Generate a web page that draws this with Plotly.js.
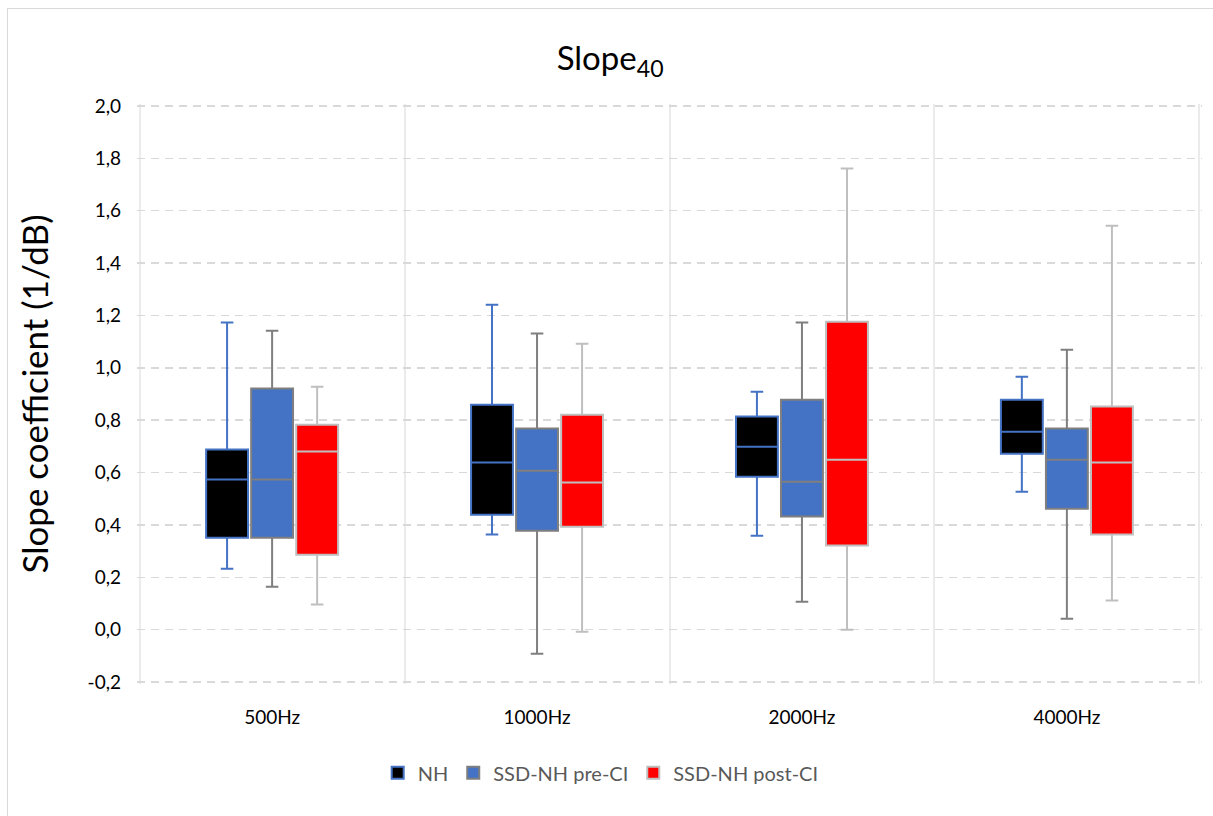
<!DOCTYPE html>
<html>
<head>
<meta charset="utf-8">
<script src="https://cdn.plot.ly/plotly-3.0.1.min.js"></script>
<style>
  html, body { margin: 0; padding: 0; background: #fff; }
  #frame { position: absolute; left: 7px; top: 8px; width: 1215px; height: 815px; border: 1px solid #D9D9D9; box-sizing: border-box; }
  #chart { position: absolute; left: 0; top: 0; width: 1213px; height: 816px; }
</style>
</head>
<body>
<div id="frame"></div>
<div id="chart"></div>
<script>
// Frequency bands
const categories = ['500Hz', '1000Hz', '2000Hz', '4000Hz'];

// Box statistics per group: whisker low, Q1, median, Q3, whisker high
const nhLow    = [0.233, 0.363, 0.359, 0.527];
const nhQ1     = [0.351, 0.439, 0.584, 0.672];
const nhMed    = [0.573, 0.638, 0.699, 0.756];
const nhQ3     = [0.688, 0.859, 0.814, 0.878];
const nhHigh   = [1.173, 1.241, 0.909, 0.966];

const preLow   = [0.164, -0.092, 0.107, 0.042];
const preQ1    = [0.351, 0.378, 0.432, 0.462];
const preMed   = [0.573, 0.607, 0.565, 0.649];
const preQ3    = [0.921, 0.768, 0.878, 0.768];
const preHigh  = [1.142, 1.131, 1.173, 1.069];

const postLow  = [0.096, -0.008, 0.000, 0.111];
const postQ1   = [0.286, 0.393, 0.321, 0.363];
const postMed  = [0.680, 0.562, 0.649, 0.638];
const postQ3   = [0.783, 0.821, 1.176, 0.852];
const postHigh = [0.928, 1.092, 1.761, 1.543];

// Y axis ticks
const yTickVals = [-0.2, 0.0, 0.2, 0.4, 0.6, 0.8, 1.0, 1.2, 1.4, 1.6, 1.8, 2.0];
const yTickText = ['-0,2', '0,0', '0,2', '0,4', '0,6', '0,8', '1,0', '1,2', '1,4', '1,6', '1,8', '2,0'];

const FONT = 'Lato, "Open Sans", sans-serif';

function boxTrace(name, low, q1, med, q3, high, fill, line) {
  return {
    type: 'box',
    name: name,
    x: categories,
    lowerfence: low,
    q1: q1,
    median: med,
    q3: q3,
    upperfence: high,
    fillcolor: fill,
    line: { color: line, width: 2 },
    whiskerwidth: 0.3,
    boxpoints: false,
    hoverinfo: 'y'
  };
}

const data = [
  boxTrace('NH', nhLow, nhQ1, nhMed, nhQ3, nhHigh, '#000000', '#4472C4'),
  boxTrace('SSD-NH pre-CI', preLow, preQ1, preMed, preQ3, preHigh, '#4472C4', '#7F7F7F'),
  boxTrace('SSD-NH post-CI', postLow, postQ1, postMed, postQ3, postHigh, '#FF0000', '#BFBFBF')
];

// The ranges are padded by ~2px on each side so the edge gridlines are kept
const layout = {
  width: 1213,
  height: 816,
  paper_bgcolor: 'rgba(0,0,0,0)',
  plot_bgcolor: 'rgba(0,0,0,0)',
  margin: { l: 137, r: 11, t: 104, b: 132 },
  font: { family: FONT, color: '#000000', size: 19 },
  title: {
    text: 'Slope<sub>40</sub>',
    font: { family: FONT, size: 33, color: '#000000' },
    x: 0.503, xanchor: 'center',
    y: 0.928, yanchor: 'middle'
  },
  boxmode: 'group',
  boxgap: 0.49,
  boxgroupgap: 0.07,
  showlegend: true,
  legend: {
    orientation: 'h',
    x: 0.226, xanchor: 'left',
    y: -0.153, yanchor: 'middle',
    font: { family: FONT, size: 20, color: '#595959' },
    itemwidth: 30
  },
  xaxis: {
    type: 'category',
    range: [-0.51, 3.51],
    tickson: 'boundaries',
    ticks: '',
    showgrid: true,
    gridcolor: '#EBEBEB',
    gridwidth: 2,
    showline: false,
    zeroline: false,
    tickfont: { family: FONT, size: 19, color: '#000000' },
    ticklabelstandoff: 20
  },
  yaxis: {
    range: [-0.2076, 2.0076],
    tickvals: yTickVals,
    ticktext: yTickText,
    showgrid: true,
    gridcolor: '#D9D9D9',
    gridwidth: 1.5,
    griddash: '8px,6px',
    zeroline: false,
    showline: false,
    ticks: '',
    ticklabelstandoff: 15,
    tickfont: { family: FONT, size: 19, color: '#000000' },
    title: {
      text: 'Slope coefficient (1/dB)',
      font: { family: FONT, size: 35, color: '#000000' },
      standoff: 28
    }
  }
};

Plotly.newPlot('chart', data, layout, { displayModeBar: false, staticPlot: true });
</script>
</body>
</html>
